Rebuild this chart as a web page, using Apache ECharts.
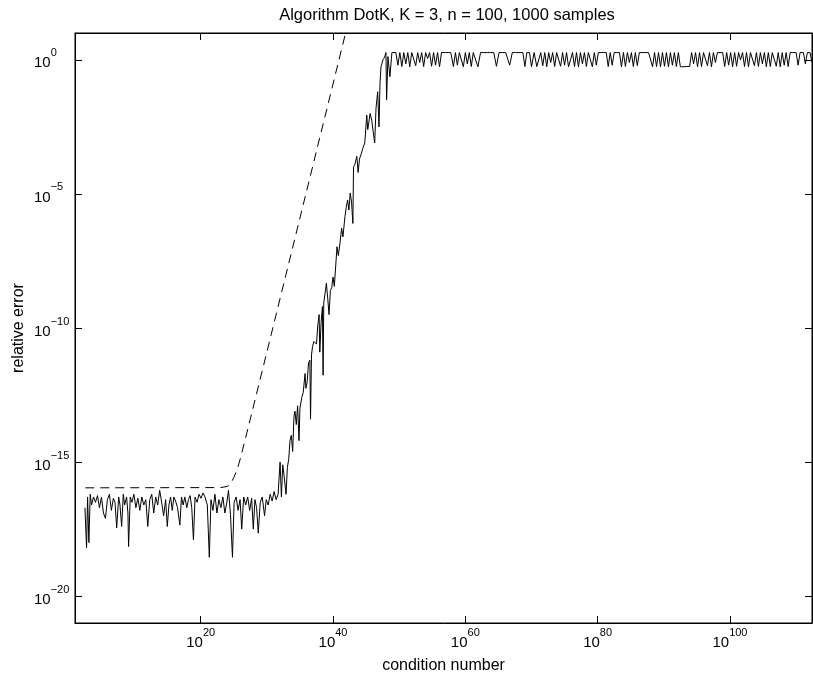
<!DOCTYPE html>
<html>
<head>
<meta charset="utf-8">
<script src="https://cdn.jsdelivr.net/npm/echarts@6/dist/echarts.min.js"></script>
<style>
html, body { margin: 0; padding: 0; background: #fff; }
#chart { width: 813px; height: 679px; }
</style>
</head>
<body>
<div id="chart"></div>
<script>
// all values are exponents: [log10(condition number), log10(relative error)]
const flatPart = [
  [2.5,-16.7],[2.75,-18.2],[2.9,-16.3],[3.1,-18.0],[3.3,-16.2],[3.5,-16.6],[3.8,-16.3],[4.1,-16.5],
  [4.4,-16.25],[4.7,-16.7],[5.0,-16.3],[5.3,-16.9],[5.6,-17.1],[5.9,-16.4],[6.2,-16.2],[6.5,-16.8],
  [6.8,-16.35],[7.05,-16.5],[7.3,-17.45],[7.6,-16.3],[7.8,-16.6],[8.05,-17.4],[8.3,-16.2],[8.5,-16.6],
  [8.8,-16.3],[9.0,-16.9],[9.1,-18.15],[9.35,-16.3],[9.6,-16.5],[9.9,-16.2],[10.2,-16.7],[10.5,-16.35],
  [10.8,-16.8],[11.1,-16.3],[11.4,-16.6],[11.7,-16.4],[12.0,-17.4],[12.3,-16.4],[12.6,-16.2],[12.9,-16.9],
  [13.2,-16.3],[13.5,-16.6],[13.8,-16.05],[14.1,-16.5],[14.4,-17.0],[14.7,-16.4],[14.95,-17.4],[15.2,-16.6],
  [15.45,-16.3],[15.7,-16.8],[15.95,-16.3],[16.2,-16.45],[16.5,-16.7],[16.85,-17.35],[17.1,-16.3],[17.35,-16.6],
  [17.6,-16.3],[17.9,-16.7],[18.15,-16.4],[18.4,-16.25],[18.65,-16.7],[18.9,-17.9],[19.15,-16.3],[19.45,-16.5],
  [19.75,-16.2],[20.05,-16.35],[20.35,-16.15],[20.65,-16.3],[21.0,-16.6],[21.3,-18.55],[21.55,-16.4],[21.85,-16.8],
  [22.15,-16.2],[22.45,-16.9],[22.75,-16.4],[23.05,-16.7],[23.35,-16.3],[23.65,-16.9],[23.95,-16.5],[24.2,-16.05],
  [24.5,-16.95],[24.8,-18.55],[25.05,-16.5],[25.35,-16.3],[25.65,-16.8],[25.95,-16.4],[26.2,-17.5],[26.5,-16.3],
  [26.8,-16.6],[27.1,-16.3],[27.4,-16.8],[27.7,-16.35],[27.95,-17.5],[28.2,-16.4],[28.45,-16.7],[28.7,-17.65],
  [29.0,-16.5],[29.3,-16.3],[29.65,-17.0],[29.9,-16.4],[30.2,-16.6],[30.5,-16.2],[30.8,-16.45],[31.1,-16.1],
  [31.4,-16.4],[31.7,-16.2],[32.0,-15.0],[32.2,-16.3],[32.4,-15.1],[32.6,-15.5],[32.9,-16.2],[33.1,-15.2],
  [33.3,-14.9]
];
const risePart = [
  [33.5,-14.2],[33.7,-14.0],[33.9,-14.6],[34.1,-13.3],[34.25,-13.1],[34.45,-13.6],[34.65,-12.9],[34.86,-14.2],
  [35.0,-13.0],[35.27,-12.6],[35.5,-12.4],[35.77,-11.7],[35.9,-12.25],[36.1,-12.0],[36.3,-11.3],[36.5,-11.2],
  [36.6,-13.4],[36.75,-11.0],[36.9,-10.7],[37.1,-10.5],[37.3,-10.45],[37.5,-10.6],[37.7,-9.9],[37.9,-9.5],
  [38.0,-10.9],[38.2,-9.8],[38.4,-9.2],[38.5,-11.76],[38.6,-9.07],[38.8,-8.7],[39.0,-8.33],[39.2,-8.9],
  [39.4,-9.5],[39.6,-8.6],[39.8,-8.5],[40.0,-8.1],[40.2,-8.45],[40.45,-8.47],[40.6,-6.97],[40.8,-7.3],
  [41.05,-6.84],[41.3,-6.28],[41.5,-6.6],[41.8,-5.85],[42.0,-5.5],[42.2,-5.23],[42.4,-5.6],[42.6,-4.97],
  [42.8,-5.3],[43.0,-6.1],[43.1,-4.0],[43.3,-3.9],[43.6,-3.6],[43.8,-4.2],[44.0,-3.7],[44.3,-3.48],
  [44.5,-3.3],[44.8,-3.1],[45.1,-2.06],[45.25,-2.6],[45.4,-2.36],[45.6,-2.0],[45.85,-2.25],[46.1,-2.3],
  [46.3,-3.1],[46.5,-1.8],[46.75,-1.19],[46.95,-2.5],[47.1,-0.9],[47.25,-0.26],[47.55,0.0],[47.8,0.1],
  [48.0,0.27],[48.1,-1.5],[48.3,0.12],[48.6,-0.63],[48.9,0.27]
];
const topPart = [
  [49.2,.27],[49.5,.27],[49.8,-.2],[50.1,.27],[50.4,-.25],[50.7,.27],[51.0,-.15],[51.3,.27],
  [51.6,-.26],[51.9,.27],[52.2,.27],[52.5,-.22],[52.8,.27],[53.1,-.1],[53.4,.27],[53.7,-.25],
  [54.0,.27],[54.3,.05],[54.6,.27],[54.9,-.24],[55.2,.27],[55.5,-.2],[55.8,.27],[56.1,-.26],
  [56.4,.27],[56.7,.27],[57.0,.27],[57.4,.27],[57.8,.27],[58.2,-.25],[58.5,.27],[58.8,-.2],
  [59.1,.27],[59.4,.27],[59.7,-.26],[60.0,.27],[60.3,-.15],[60.6,.27],[60.9,-.25],[61.2,.27],
  [61.5,.27],[61.9,-.26],[62.3,.27],[62.8,.27],[63.3,.27],[63.8,.27],[64.3,.27],[64.7,-.24],
  [65.1,.27],[65.6,.27],[66.1,.27],[66.7,-.2],[67.1,.27],[67.6,.27],[68.1,.27],[68.7,.27],
  [69.0,-.25],[69.3,.27],[69.7,.27],[70.0,-.26],[70.4,.27],[70.8,-.25],[71.1,-.25],[71.4,.27],
  [71.7,-.22],[72.0,.27],[72.3,-.26],[72.6,.27],[72.9,-.1],[73.2,.27],[73.5,-.25],[73.8,.27],
  [74.1,.27],[74.4,-.24],[74.7,.27],[75.0,-.2],[75.3,.27],[75.6,-.26],[75.9,.0],[76.2,.27],
  [76.5,-.25],[76.8,.27],[77.1,-.26],[77.4,.27],[77.7,-.15],[78.0,.27],[78.3,-.25],[78.6,.27],
  [78.9,.27],[79.2,-.26],[79.5,.27],[79.8,-.2],[80.1,.27],[80.5,.27],[80.9,.27],[81.3,.27],
  [81.6,-.25],[81.9,.27],[82.2,-.2],[82.5,.27],[82.9,.27],[83.3,.27],[83.6,-.26],[83.9,.27],
  [84.2,-.25],[84.5,.27],[84.8,-.1],[85.1,.27],[85.4,-.25],[85.7,.27],[86.0,-.22],[86.3,.27],
  [86.8,.27],[87.3,.27],[87.7,.27],[88.3,-.26],[88.6,.27],[88.9,-.25],[89.2,.27],[89.5,-.26],
  [89.8,.27],[90.1,-.24],[90.4,.27],[90.7,-.26],[91.0,.27],[91.3,-.2],[91.6,.27],[91.9,-.25],
  [92.2,.27],[92.5,-.26],[92.9,-.26],[93.4,-.25],[93.9,-.25],[94.2,.27],[94.5,-.15],[94.8,.27],
  [95.1,-.26],[95.4,.27],[95.7,-.25],[96.0,.27],[96.3,.27],[96.6,-.22],[96.9,.27],[97.2,-.26],
  [97.5,.27],[97.8,-.1],[98.1,.27],[98.5,.27],[98.9,.27],[99.2,-.25],[99.5,.27],[99.8,-.2],
  [100.1,.27],[100.4,-.26],[100.7,.27],[101.0,-.24],[101.3,.27],[101.6,.0],[101.9,.27],[102.2,-.25],
  [102.5,.27],[102.8,-.26],[103.1,.27],[103.4,.27],[103.7,-.22],[104.0,.27],[104.3,-.25],[104.6,.27],
  [104.9,-.15],[105.2,.27],[105.5,-.26],[105.8,.27],[106.1,-.25],[106.4,.27],[106.7,.27],[107.0,-.24],
  [107.3,.27],[107.6,-.26],[107.9,.27],[108.2,-.2],[108.5,.27],[108.8,-.25],[109.1,.27],[109.5,.27],
  [110.0,.27],[110.3,-.2],[110.6,.27],[111.1,.27],[111.4,-.15],[111.7,.27],[112.1,.27],[112.4,-.1]
];
// error bound (dashed)
const boundLine = [
  [2.55,-15.96],[23,-15.95],[24,-15.91],[24.5,-15.83],[25,-15.57],[25.5,-15.29],
  [26,-14.86],[27,-13.89],[30,-10.9],[35,-5.9],[42.2,1.3]
];
const xTicks = [20, 40, 60, 80, 100];
const yTicks = [-20, -15, -10, -5, 0];

const font = '"Liberation Sans", Arial, Helvetica, sans-serif';
const xMin = 1, xMax = 112.4, yMin = -21, yMax = 1;

function powLabel(v) {
  return '{b|10}{s|' + String(v).replace('-', '\u2212') + '}';
}
const richPow = {
  b: { fontSize: 15, lineHeight: 15, verticalAlign: 'bottom', fontFamily: font, color: '#000' },
  s: { fontSize: 11, lineHeight: 11, verticalAlign: 'bottom', fontFamily: font, color: '#000', padding: [0, 0, 12, 0] }
};

const boxAxis = {
  axisLine: { onZero: false, lineStyle: { color: '#000', width: 1 } },
  splitLine: { show: false }
};

const chart = echarts.init(document.getElementById('chart'));
const option = {
  animation: false,
  backgroundColor: '#fff',
  title: {
    text: 'Algorithm DotK, K = 3, n = 100, 1000 samples',
    left: 447,
    textAlign: 'center',
    top: 7,
    padding: 0,
    textStyle: { fontSize: 16.5, fontWeight: 'normal', color: '#000', fontFamily: font }
  },
  grid: {
    left: 75, right: 1, top: 33, bottom: 56,
    show: true, borderColor: '#000', borderWidth: 1
  },
  xAxis: [Object.assign({
    type: 'value', min: xMin, max: xMax,
    name: 'condition number', nameLocation: 'middle', nameGap: 35,
    nameTextStyle: { fontSize: 16, color: '#000', fontFamily: font },
    axisTick: { inside: true, length: 7, customValues: xTicks, lineStyle: { color: '#000' } },
    axisLabel: { customValues: xTicks, margin: 12, formatter: powLabel, rich: richPow }
  }, boxAxis), Object.assign({
    type: 'value', min: xMin, max: xMax, position: 'top',
    axisTick: { inside: true, length: 7, customValues: xTicks, lineStyle: { color: '#000' } },
    axisLabel: { show: false }
  }, boxAxis)],
  yAxis: [Object.assign({
    type: 'value', min: yMin, max: yMax,
    name: 'relative error', nameLocation: 'middle', nameGap: 48, nameMoveOverlap: false,
    nameTextStyle: { fontSize: 16, color: '#000', fontFamily: font },
    axisTick: { inside: true, length: 7, customValues: yTicks, lineStyle: { color: '#000' } },
    axisLabel: { customValues: yTicks, margin: 41, align: 'left', padding: [7, 0, 0, 0], formatter: powLabel, rich: richPow }
  }, boxAxis), Object.assign({
    type: 'value', min: yMin, max: yMax, position: 'right',
    axisTick: { inside: true, length: 7, customValues: yTicks, lineStyle: { color: '#000' } },
    axisLabel: { show: false }
  }, boxAxis)],
  series: [{
    type: 'line',
    data: flatPart.concat(risePart, topPart),
    showSymbol: false,
    lineStyle: { color: '#000', width: 1 },
    silent: true
  }, {
    type: 'line',
    data: boundLine,
    showSymbol: false,
    lineStyle: { color: '#000', width: 1, type: [9, 6] },
    silent: true
  }]
};
chart.setOption(option);
</script>
</body>
</html>
